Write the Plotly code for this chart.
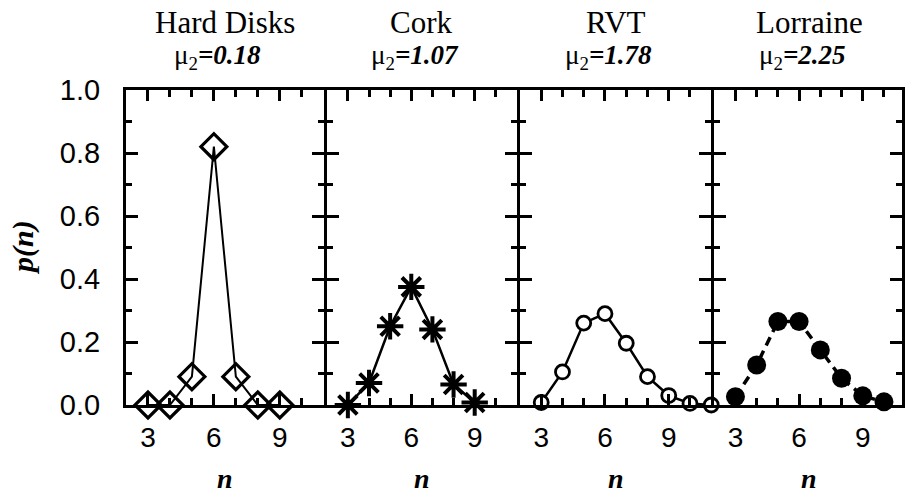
import plotly.graph_objects as go
from plotly.subplots import make_subplots

# ---- data ----
panel_titles = ["Hard Disks", "Cork", "RVT", "Lorraine"]
mu2_values = ["0.18", "1.07", "1.78", "2.25"]

n_hard = [3, 4, 5, 6, 7, 8, 9]
p_hard = [0.0, 0.0, 0.09, 0.82, 0.09, 0.0, 0.0]

n_cork = [3, 4, 5, 6, 7, 8, 9]
p_cork = [0.0, 0.07, 0.25, 0.375, 0.24, 0.065, 0.008]

n_rvt = [3, 4, 5, 6, 7, 8, 9, 10, 11]
p_rvt = [0.008, 0.105, 0.26, 0.29, 0.196, 0.09, 0.03, 0.005, 0.0]

n_lor = [3, 4, 5, 6, 7, 8, 9, 10]
p_lor = [0.026, 0.127, 0.265, 0.265, 0.175, 0.085, 0.029, 0.01]

x_ticks = [3, 6, 9]
y_ticks = [0.0, 0.2, 0.4, 0.6, 0.8, 1.0]
y_ticklabels = ["0.0", "0.2", "0.4", "0.6", "0.8", "1.0"]

# ---- layout geometry (pixels) ----
W, H = 905, 493
L, R, T, B = 126, 0, 90, 88
plot_w = W - L - R
LW = 3
panels_px = [[126, 324.5], [327.5, 518.5], [521.5, 713.5], [716.5, 905]]
domains = [[(a - L) / plot_w, (b - L) / plot_w] for a, b in panels_px]
unit_px = 21.3
x_ranges = [[2, 11], [2, 11], [2, 11], [2, 2 + (905 - 716.5) / unit_px]]

fig = make_subplots(rows=1, cols=4, horizontal_spacing=0)

black = "#000000"
fig.add_trace(go.Scatter(x=n_hard, y=p_hard, mode="lines+markers",
                         line=dict(color=black, width=2),
                         marker=dict(symbol="diamond-open", size=20, color=black,
                                     line=dict(width=3.2, color=black)),
                         cliponaxis=False, showlegend=False), row=1, col=1)
fig.add_trace(go.Scatter(x=n_cork, y=p_cork, mode="lines+markers",
                         line=dict(color=black, width=2.5),
                         marker=dict(symbol="asterisk-open", size=22, color=black,
                                     line=dict(width=4, color=black)),
                         cliponaxis=False, showlegend=False), row=1, col=2)
fig.add_trace(go.Scatter(x=n_rvt, y=p_rvt, mode="lines+markers",
                         line=dict(color=black, width=2.5),
                         marker=dict(symbol="circle", size=14, color="white",
                                     line=dict(width=2.8, color=black)),
                         cliponaxis=False, showlegend=False), row=1, col=3)
fig.add_trace(go.Scatter(x=n_lor, y=p_lor, mode="lines+markers",
                         line=dict(color=black, width=3.5, dash="9px,6px"),
                         marker=dict(symbol="circle", size=19, color=black,
                                     line=dict(width=0, color=black)),
                         cliponaxis=False, showlegend=False), row=1, col=4)

sans = "Liberation Sans, Arial, sans-serif"
serif = "Liberation Serif, Times New Roman, serif"

for i in range(4):
    xa = "xaxis" if i == 0 else f"xaxis{i + 1}"
    ya = "yaxis" if i == 0 else f"yaxis{i + 1}"
    fig.layout[xa].update(
        domain=domains[i], range=x_ranges[i], tickmode="array", tickvals=x_ticks,
        ticktext=[str(v) for v in x_ticks],
        ticks="inside", ticklen=11, tickwidth=2.5, tickcolor=black,
        showline=True, linewidth=LW, linecolor=black, mirror="ticks",
        showgrid=False, zeroline=False, fixedrange=True,
        tickfont=dict(family=sans, size=28, color=black), ticklabelstandoff=5,
        minor=dict(dtick=1, tick0=2, ticks="inside", ticklen=7, tickwidth=2.5,
                   tickcolor=black, showgrid=False),
    )
    fig.layout[ya].update(
        range=[0, 1], tickmode="array", tickvals=y_ticks, ticktext=y_ticklabels,
        ticks="inside", ticklen=12, tickwidth=2.5, tickcolor=black,
        showline=True, linewidth=LW, linecolor=black, mirror="ticks",
        showgrid=False, zeroline=False, fixedrange=True,
        showticklabels=(i == 0),
        tickfont=dict(family=sans, size=29, color=black), ticklabelstandoff=17,
        minor=dict(dtick=0.1, tick0=0, ticks="inside", ticklen=6, tickwidth=2.5,
                   tickcolor=black, showgrid=False),
    )
    if i > 0:
        fig.layout[ya].update(matches="y")

annotations = []
centers_px = [225, 423, 617.5, 812]
for i in range(4):
    cx = (centers_px[i] - L) / plot_w
    annotations.append(dict(x=cx, y=(405 - 22) / 315, xref="paper", yref="paper",
                            text=panel_titles[i], showarrow=False,
                            font=dict(family=serif, size=31, color=black),
                            xanchor="center", yanchor="middle"))
    annotations.append(dict(x=cx, y=(405 - 57) / 315, xref="paper", yref="paper",
                            xshift=-7,
                            text=f"μ<sub>2</sub><b><i>={mu2_values[i]}</i></b>",
                            showarrow=False,
                            font=dict(family=serif, size=27, color=black),
                            xanchor="center", yanchor="middle"))
    annotations.append(dict(x=cx, y=(405 - 478) / 315, xref="paper", yref="paper",
                            text="<b><i>n</i></b>", showarrow=False,
                            font=dict(family=serif, size=28, color=black),
                            xanchor="center", yanchor="middle"))
annotations.append(dict(x=(22 - L) / plot_w, y=0.5, xref="paper", yref="paper",
                        text="<b><i>p(n)</i></b>", showarrow=False, textangle=-90,
                        font=dict(family=serif, size=30, color=black),
                        xanchor="center", yanchor="middle"))

fig.update_layout(
    width=W, height=H, margin=dict(l=L, r=R, t=T, b=B, pad=0),
    paper_bgcolor="white", plot_bgcolor="white",
    annotations=annotations, showlegend=False,
)

fig.write_html("out.html")
